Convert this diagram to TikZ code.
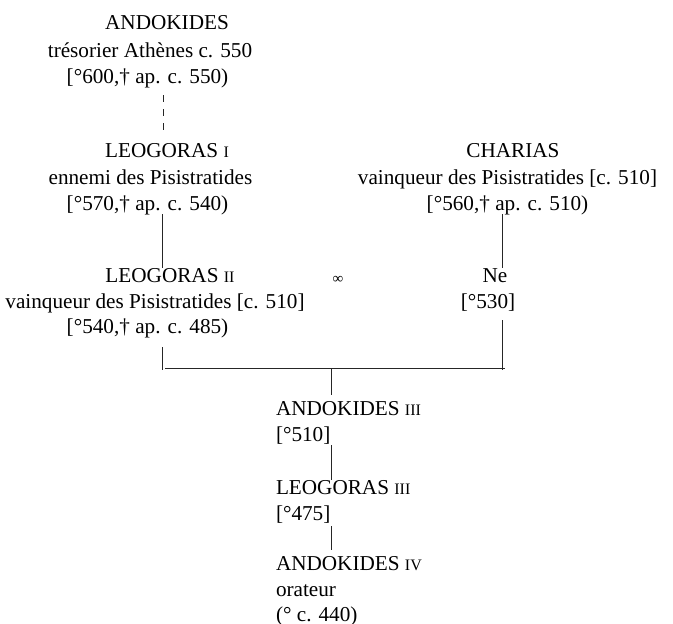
\documentclass[tikz,border=0pt]{standalone}
\usepackage{fontspec}
\setmainfont{Liberation Serif}
\newcommand\rn[1]{{\fontsize{8pt}{9pt}\selectfont #1}}
\tikzset{
  txt/.style={inner sep=0pt, outer sep=0pt, anchor=base, text height=7pt, text depth=2pt,
    font=\fontsize{10.6pt}{13pt}\selectfont},
  ltxt/.style={txt, anchor=base west},
  link/.style={draw=black!85, line width=0.5pt},
  dlink/.style={link, dash pattern=on 3.5pt off 3.5pt}
}
\begin{document}
\begin{tikzpicture}[x=0.5pt,y=-0.5pt]
\useasboundingbox (0,0) rectangle (673,623);
% Andokides I
\node[txt] (a1) at (167,29) {ANDOKIDES};
\node[txt] (a2) at (150,57) {trésorier Athènes c. 550};
\node[txt] (a3) at (147.5,83) {[°600,† ap. c. 550)};
% Leogoras I
\node[txt] (b1) at (167,157) {LEOGORAS \rn{I}};
\node[txt] (b2) at (150.5,184) {ennemi des Pisistratides};
\node[txt] (b3) at (147.5,210) {[°570,† ap. c. 540)};
% Leogoras II
\node[txt] (c1) at (170,282) {LEOGORAS \rn{II}};
\node[txt] (c2) at (155,308) {vainqueur des Pisistratides [c. 510]};
\node[txt] (c3) at (147.5,333) {[°540,† ap. c. 485)};
% Charias
\node[txt] (d1) at (513,157) {CHARIAS};
\node[txt] (d2) at (507.5,184) {vainqueur des Pisistratides [c. 510]};
\node[txt] (d3) at (507.5,210) {[°560,† ap. c. 510)};
% Ne
\node[txt] (e1) at (495,282) {Ne};
\node[txt] (e2) at (488,308) {[°530]};
% marriage sign
\node[inner sep=0pt, font=\fontsize{7.5pt}{9pt}\selectfont] (m) at (338,280) {∞};
% Andokides III
\node[ltxt] (f1) at (276,415) {ANDOKIDES \rn{III}};
\node[ltxt] (f2) at (276,441) {[°510]};
% Leogoras III
\node[ltxt] (g1) at (276,494) {LEOGORAS \rn{III}};
\node[ltxt] (g2) at (276,520) {[°475]};
% Andokides IV
\node[ltxt] (h1) at (276,570) {ANDOKIDES \rn{IV}};
\node[ltxt] (h2) at (276,596) {orateur};
\node[ltxt] (h3) at (276,621) {(° c. 440)};
% connector columns
\coordinate (xa) at (163,0);
\coordinate (xb) at (162,0);
\coordinate (xd) at (502,0);
\coordinate (xm) at (331,0);
\coordinate (jl) at (162,370);
\coordinate (jr) at (502,370);
\coordinate (hl) at (165,368);
\coordinate (hr) at (505,368);
\coordinate (jm) at (331,368);
% connectors
\draw[dlink, shorten <=4pt, shorten >=5pt] (xa |- a3.south) -- (xa |- b1.north);
\draw[link] (xb |- b3.south) -- (xb |- c1.north);
\draw[link] (xd |- d3.south) -- (xd |- e1.north);
\draw[link, shorten <=5pt] (jl |- c3.south) -- (jl);
\draw[link, shorten <=4pt] (jr |- e2.south) -- (jr);
\draw[link] (hl) -- (hr);
\draw[link, shorten >=3pt] (jm) -- (xm |- f1.north);
\draw[link] (xm |- f2.south) -- (xm |- g1.north);
\draw[link, shorten <=1pt, shorten >=3pt] (xm |- g2.south) -- (xm |- h1.north);
\end{tikzpicture}
\end{document}
